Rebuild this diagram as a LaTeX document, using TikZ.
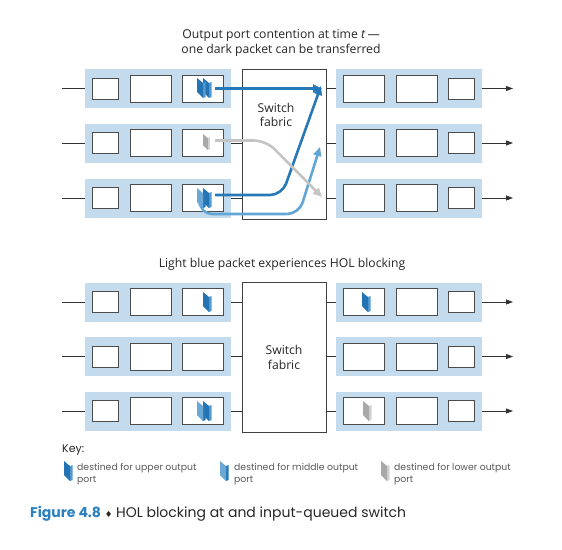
\documentclass[tikz,border=0pt]{standalone}
\usepackage{fontspec}
\setmainfont{Open Sans}
\newfontfamily\keyfont{Poppins}
\newfontfamily\symfont{DejaVu Sans}
\usetikzlibrary{arrows.meta,positioning}

\definecolor{bandblue}{RGB}{196,218,237}
\definecolor{dark}{RGB}{36,115,178}
\definecolor{darkside}{RGB}{85,155,210}
\definecolor{light}{RGB}{108,168,214}
\definecolor{lightside}{RGB}{40,120,182}
\definecolor{grey}{RGB}{168,168,168}
\definecolor{greyside}{RGB}{210,210,210}
\definecolor{darkflow}{RGB}{38,120,182}
\definecolor{lightflow}{RGB}{98,166,214}
\definecolor{greyflow}{RGB}{196,196,196}
\definecolor{capblue}{RGB}{42,128,192}

\tikzset{
  band/.style={fill=bandblue, minimum width=146pt, minimum height=39pt, inner sep=0pt},
  buf/.style={draw=black!70, fill=white, line width=1pt, inner sep=0pt, minimum height=27pt},
  wide buf/.style={buf, minimum width=41pt},
  small buf/.style={buf, minimum width=26pt, minimum height=21pt},
  fabric/.style={draw=black!75, fill=white, line width=0.8pt, minimum width=84pt,
    minimum height=150pt, align=center, inner sep=0pt},
  wire/.style={draw=black!80, line width=0.8pt},
  flow/.style={line width=2.6pt, rounded corners=12pt, -{Triangle[length=9pt,width=8pt]}},
  keytext/.style={font=\keyfont\fontsize{9.3}{12}\selectfont, text=black!65, align=left, anchor=north west, inner sep=0pt},
  pkt/.pic={
    \fill[#1side] (6,5) -- (8.5,4) -- (8.5,19) -- (6,20) -- cycle;
    \fill[#1] (0,0) -- (6,5) -- (6,20) -- (0,14) -- cycle;
  }
}

\begin{document}
\begin{tikzpicture}[x=1pt,y=-1pt,font=\fontsize{12.2}{14.2}\selectfont,text=black!85]
\useasboundingbox (0,0) rectangle (562,549);

% contention at time t
\node[align=center] (titleA) at (281,43) {Output port contention at time \textit{t}\,—\\one dark packet can be transferred};
\node[fabric] (fabA) at (284,144) {};
\node[align=center] (fablabA) at (276,115) {Switch\\fabric};

\foreach \r/\y in {1/88.5,2/143,3/198}{
  \coordinate (srcA\r) at (62,\y);
  \node[band] (bandA\r) at (158,\y) {};
  \node[small buf] (inA\r-1) at (105,\y) {};
  \node[wide buf] (inA\r-2) at (150.5,\y) {};
  \node[wide buf] (inA\r-3) at (203,\y) {};
  \draw[wire] (srcA\r) -- (bandA\r);
  \draw[wire] (bandA\r) -- (fabA.west |- bandA\r);
  \node[band] (outbandA\r) at (409,\y) {};
  \node[wide buf] (outA\r-1) at (363.5,\y) {};
  \node[wide buf] (outA\r-2) at (416.5,\y) {};
  \node[small buf] (outA\r-3) at (461.5,\y) {};
  \coordinate (dstA\r) at (513,\y);
  \draw[wire] (fabA.east |- outbandA\r) -- (outbandA\r);
  \draw[wire,-{Triangle[length=7pt,width=5pt]}] (outbandA\r) -- (dstA\r);
}

\pic at (203,78) {pkt=dark};
\pic at (197,78) {pkt=dark};
\pic[scale=0.8] at (203,134) {pkt=grey};
\pic at (203,188) {pkt=dark};
\pic at (197,188) {pkt=light};

\coordinate (fromA1) at (215,88.5);
\coordinate (fromA2) at (215,140.5);
\coordinate (fromA3) at (215,195);
\coordinate (fromA3b) at (200,206);
\coordinate (toA1) at (322,88.5);
\coordinate (toA1b) at (321,86);
\coordinate (toA2) at (320,147);
\coordinate (toA3) at (322,197);

\draw[flow,darkflow] (fromA1) -- (toA1);
\draw[flow,darkflow] (fromA3) -- (282,195) -- (toA1b);
\draw[flow,lightflow] (fromA3b) -- (200,214) -- (299,214) -- (toA2);
\draw[flow,greyflow] (fromA2) -- (266,140.5) -- (toA3);

% HOL blocking
\node (titleB) at (282,264) {Light blue packet experiences HOL blocking};
\node[fabric] (fabB) at (284,357.5) {Switch\\fabric};

\foreach \r/\y in {1/302,2/356.5,3/411}{
  \coordinate (srcB\r) at (62,\y);
  \node[band] (bandB\r) at (158,\y) {};
  \node[small buf] (inB\r-1) at (105,\y) {};
  \node[wide buf] (inB\r-2) at (150.5,\y) {};
  \node[wide buf] (inB\r-3) at (203,\y) {};
  \draw[wire] (srcB\r) -- (bandB\r);
  \draw[wire] (bandB\r) -- (fabB.west |- bandB\r);
  \node[band] (outbandB\r) at (409,\y) {};
  \node[wide buf] (outB\r-1) at (363.5,\y) {};
  \node[wide buf] (outB\r-2) at (416.5,\y) {};
  \node[small buf] (outB\r-3) at (461.5,\y) {};
  \coordinate (dstB\r) at (513,\y);
  \draw[wire] (fabB.east |- outbandB\r) -- (outbandB\r);
  \draw[wire,-{Triangle[length=7pt,width=5pt]}] (outbandB\r) -- (dstB\r);
}

\pic at (203,292) {pkt=dark};
\pic at (203,401) {pkt=dark};
\pic at (197,401) {pkt=light};
\pic at (362,292) {pkt=dark};
\pic at (363,401) {pkt=grey};

% key
\node[font=\keyfont\fontsize{11}{12}\selectfont, anchor=west, inner sep=0pt] (key) at (62,450) {Key:};
\pic at (64,461) {pkt=dark};
\node[keytext] (keyup) at (77,463) {destined for upper output\\port};
\pic at (220,461) {pkt=light};
\node[keytext] (keymid) at (234,463) {destined for middle output\\port};
\pic at (381,461) {pkt=grey};
\node[keytext] (keylow) at (394,463) {destined for lower output\\port};

% caption
\node[anchor=west, inner sep=0pt, font=\keyfont\fontsize{14}{16}\selectfont] (caption) at (30,514)
  {\textcolor{capblue}{\bfseries Figure 4.8} {\symfont\fontsize{8.5}{9}\selectfont ♦} HOL blocking at and input-queued switch};
\end{tikzpicture}
\end{document}
